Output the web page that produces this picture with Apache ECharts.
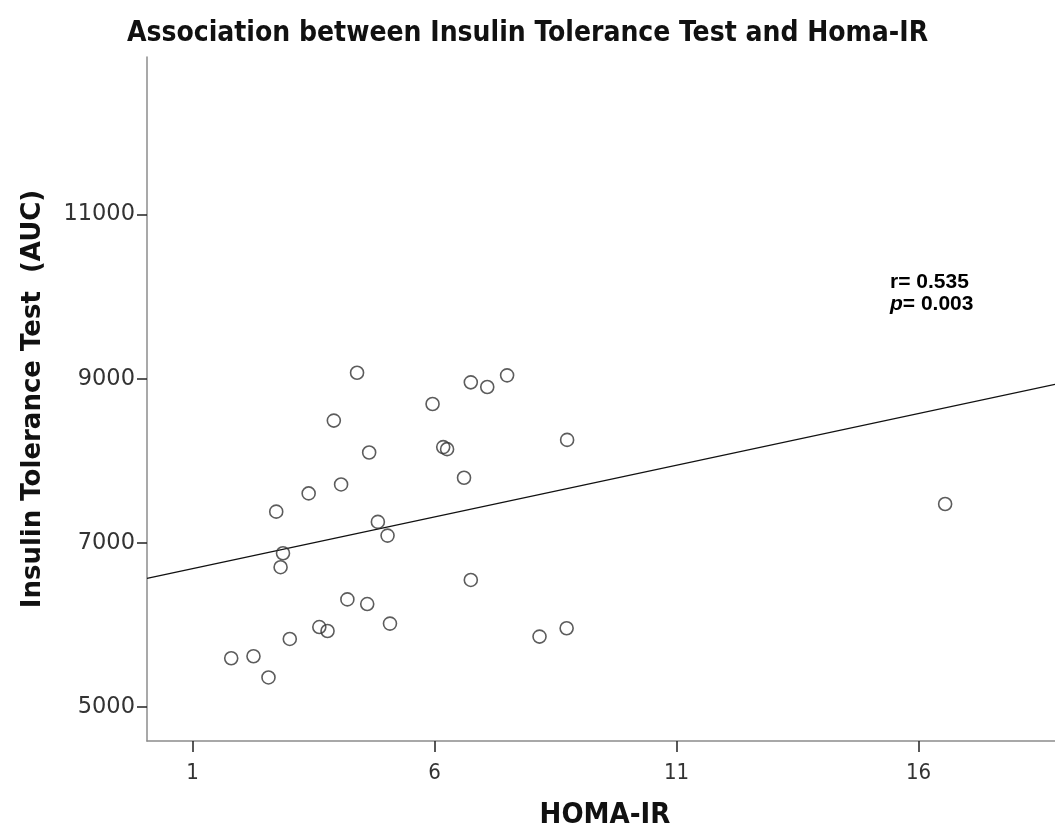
<!DOCTYPE html>
<html>
<head>
<meta charset="utf-8">
<title>Association between Insulin Tolerance Test and Homa-IR</title>
<script src="https://cdn.jsdelivr.net/npm/echarts@6/dist/echarts.min.js"></script>
<style>
  html, body { margin: 0; padding: 0; background: #fff; }
  #chart { width: 1055px; height: 835px; }
</style>
</head>
<body>
<div id="chart"></div>
<script>
// HOMA-IR values (x) and insulin tolerance test AUC values (y), one entry per subject
const homaIR = [
  1.80, 2.26, 2.57, 3.01, 3.62, 3.79, 4.20, 4.61, 5.08, 6.75, 8.17, 8.73,
  2.73, 2.87, 2.82, 3.40, 4.07, 4.65, 4.83, 5.03, 3.92, 4.40, 5.96, 6.18,
  6.26, 6.61, 6.75, 7.09, 7.50, 8.74, 16.55
];
const ittAUC = [
  5595, 5619, 5361, 5830, 5975, 5927, 6312, 6255, 6017, 6549, 5859, 5960,
  7381, 6874, 6704, 7603, 7712, 8101, 7256, 7089, 8490, 9073, 8692, 8167,
  8142, 7794, 8956, 8899, 9041, 8255, 7474
];

// Fitted linear regression line: AUC = intercept + slope * HOMA-IR
const fitIntercept = 6560;
const fitSlope = 126;

// Axis ranges and tick labels
const xRange = [0.06, 18.82];
const yRange = [4587, 12919];
const xTicks = [1, 6, 11, 16];
const yTicks = [5000, 7000, 9000, 11000];

// Statistics annotation
const statR = '0.535';
const statP = '0.003';

const points = homaIR.map((x, i) => [x, ittAUC[i]]);
const fitLine = xRange.map(x => [x, fitIntercept + fitSlope * x]);

const chart = echarts.init(document.getElementById('chart'), null, { renderer: 'canvas' });

const condensed = "'DejaVu Sans Condensed', 'DejaVu Sans', sans-serif";
const axisLineStyle = { color: '#8c8c8c', width: 1.5 };

chart.setOption({
  animation: false,
  backgroundColor: '#ffffff',
  title: {
    text: 'Association between Insulin Tolerance Test and Homa-IR',
    left: 'center',
    top: 15,
    textStyle: {
      fontFamily: condensed,
      fontWeight: 'bold',
      fontSize: 28,
      color: '#111'
    }
  },
  grid: { left: 147, right: 0, top: 57, bottom: 92, containLabel: false },
  xAxis: {
    type: 'value',
    min: xRange[0],
    max: xRange[1],
    name: 'HOMA-IR',
    nameLocation: 'middle',
    nameGap: 60,
    nameTextStyle: {
      fontFamily: condensed,
      fontWeight: 'bold',
      fontSize: 29,
      color: '#111',
      padding: [0, 0, 0, 8]
    },
    axisLine: { show: true, lineStyle: axisLineStyle },
    axisTick: { show: true, customValues: xTicks, length: 11, lineStyle: { color: '#222', width: 1.5 } },
    axisLabel: {
      customValues: xTicks,
      margin: 21,
      fontFamily: condensed,
      fontSize: 22,
      color: '#333',
      formatter: v => String(v)
    },
    splitLine: { show: false }
  },
  yAxis: {
    type: 'value',
    min: yRange[0],
    max: yRange[1],
    name: 'Insulin Tolerance Test  (AUC)',
    nameLocation: 'middle',
    nameGap: 101,
    nameTextStyle: {
      fontFamily: "'DejaVu Sans', sans-serif",
      fontWeight: 'bold',
      fontSize: 26,
      color: '#111'
    },
    axisLine: { show: true, lineStyle: axisLineStyle },
    axisTick: { show: true, customValues: yTicks, length: 10, lineStyle: { color: '#222', width: 1.5 } },
    axisLabel: {
      customValues: yTicks,
      margin: 12,
      fontFamily: "'DejaVu Sans', sans-serif",
      fontSize: 22.5,
      color: '#333',
      formatter: v => String(v)
    },
    splitLine: { show: false }
  },
  graphic: [{
    type: 'text',
    left: 890,
    top: 272,
    style: {
      text: '{b|r= ' + statR + '}\n{i|p}{b|= ' + statP + '}',
      rich: {
        b: { fontFamily: "'Liberation Sans', Arial, sans-serif", fontWeight: 'bold', fontSize: 21, lineHeight: 22, fill: '#000' },
        i: { fontFamily: "'Liberation Sans', Arial, sans-serif", fontWeight: 'bold', fontStyle: 'italic', fontSize: 21, lineHeight: 22, fill: '#000' }
      }
    }
  }],
  series: [
    {
      name: 'Fit',
      type: 'line',
      data: fitLine,
      symbol: 'none',
      silent: true,
      lineStyle: { color: '#111', width: 1.3 },
      z: 1
    },
    {
      name: 'Subjects',
      type: 'scatter',
      data: points,
      symbol: 'circle',
      symbolSize: 13,
      itemStyle: { color: 'rgba(0,0,0,0)', borderColor: '#333', borderWidth: 1.6 },
      z: 2
    }
  ]
});
</script>
</body>
</html>
